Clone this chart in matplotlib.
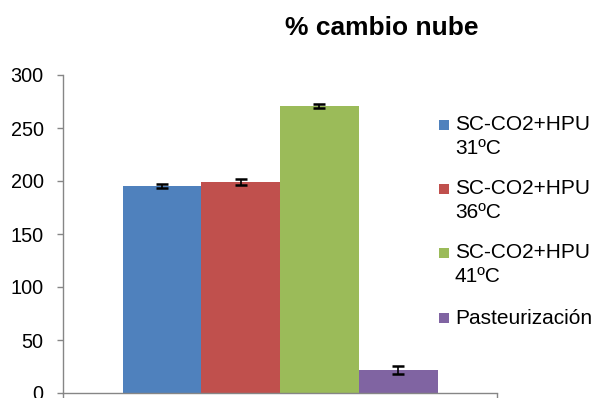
import matplotlib
matplotlib.use("Agg")
import matplotlib.pyplot as plt
from matplotlib.patches import Rectangle

plt.rcParams['font.family'] = ['Liberation Sans', 'DejaVu Sans']

series = ["SC-CO2+HPU\n31ºC", "SC-CO2+HPU\n36ºC", "SC-CO2+HPU\n41ºC", "Pasteurización"]
values = [195.3, 199.0, 270.8, 21.7]
errors = [1.6, 2.5, 1.5, 3.9]
colors = ["#4F81BD", "#C0504D", "#9BBB59", "#8064A2"]
yticks = [0, 50, 100, 150, 200, 250, 300]
title = "% cambio nube"

W, H = 595, 398
fig = plt.figure(figsize=(W / 100, H / 100), dpi=100)
ax = fig.add_axes([63 / W, 5 / H, (497 - 63) / W, (393 - 75) / H])

n = len(series)
group = 315 / 434
bw = group / n
xs = [-group / 2 + bw * (i + 0.5) for i in range(n)]
for x, v, e, c in zip(xs, values, errors, colors):
    ax.bar(x, v, width=bw, color=c, edgecolor='none', zorder=2)
    ax.errorbar(x, v, yerr=e, fmt='none', ecolor='black', elinewidth=1.2,
                capsize=4.3, capthick=1.8, zorder=3)

ax.set_xlim(-0.5, 0.5)
ax.set_ylim(0, 300)
ax.set_yticks(yticks)
ax.set_yticklabels([str(t) for t in yticks], fontsize=14.3)
ax.set_xticks([-0.5, 0.5])
ax.set_xticklabels(['', ''])
gray = '#868686'
for s in ['top', 'right']:
    ax.spines[s].set_visible(False)
for s in ['left', 'bottom']:
    ax.spines[s].set_color(gray)
    ax.spines[s].set_linewidth(1.0)
ax.tick_params(axis='y', direction='out', length=4, width=1, color=gray, pad=10)
ax.tick_params(axis='x', direction='out', length=5, width=1, color=gray)
ax.patch.set_visible(False)

fig.text(381.5 / W, 1 - 28 / H, title, ha='center', va='center',
         fontsize=19, fontweight='bold')

# legend (manual, to match Excel style)
entry_y = [125, 189, 253, 318]
for lab, c, yy in zip(series, colors, entry_y):
    fig.patches.append(Rectangle((438.5 / W, 1 - (yy + 5) / H), 10 / W, 10 / H,
                                 transform=fig.transFigure, facecolor=c,
                                 edgecolor='none'))
    lines = lab.split("\n")
    for k, ln in enumerate(lines):
        fig.text(455 / W, 1 - (yy + 23 * k) / H, ln, ha='left', va='center',
                 fontsize=15)

fig.savefig("out.png", dpi=100)
